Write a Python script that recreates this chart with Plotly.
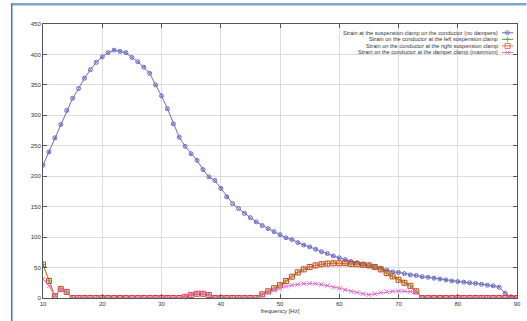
import plotly.graph_objects as go

freq = list(range(10, 91))

# Strain at the suspension clamp on the conductor (no dampers) -- 10..89 Hz
no_dampers = [218, 240, 263, 285, 308, 328, 344, 361, 375, 387,
              396, 403, 407, 405, 403, 395, 388, 379, 369, 350,
              332, 311, 286, 264, 249, 237, 226, 211, 199, 193,
              180, 166, 155, 147, 139, 132, 125, 119, 114, 109,
              104, 99, 96, 91, 87, 84, 80, 76, 73, 69,
              66, 63, 60, 58, 55.5, 53, 51, 49, 46, 43,
              42, 40, 38, 37, 35, 34, 32.5, 31, 29.7, 28,
              27, 26, 25, 24, 22.5, 21, 20, 17.6, 7.7, 2]
freq_no_dampers = freq[:80]

# Strain on the conductor at the left suspension clamp -- 10..90 Hz
left_clamp = [55, 28, 3, 15, 10, 0, 0, 0, 0, 0,
              0, 0, 0, 0, 0, 0, 0, 0, 0, 0,
              0, 0, 0, 0, 2, 5, 7, 7, 5, 0,
              0, 0, 0, 0, 0, 0, 0, 6, 11, 16,
              21, 28, 35, 42, 47, 51, 53.5, 55.5, 56.5, 57,
              57, 57, 56, 55.5, 54.5, 53.5, 51, 47, 41, 35.5,
              30, 25, 20, 11, 0, 0, 0, 0, 0, 0,
              0, 0, 0, 0, 0, 0, 0, 0, 0, 0, 0]

# Strain on the conductor at the right suspension clamp -- 10..90 Hz
right_clamp = [55, 28, 3, 15, 10, 0, 0, 0, 0, 0,
               0, 0, 0, 0, 0, 0, 0, 0, 0, 0,
               0, 0, 0, 0, 2, 5, 7, 7, 5, 0,
               0, 0, 0, 0, 0, 0, 0, 6, 11, 16,
               21, 28, 35, 42, 47, 51, 53.5, 55.5, 56.5, 57,
               57, 57, 56, 55.5, 54.5, 53.5, 51, 47, 41, 35.5,
               30, 25, 20, 11, 0, 0, 0, 0, 0, 0,
               0, 0, 0, 0, 0, 0, 0, 0, 0, 0, 0]

# Strain on the conductor at the damper clamp (maximum) -- 10..90 Hz
damper_clamp = [31, 20, 3, 15, 10, 0, 0, 0, 0, 0,
                0, 0, 0, 0, 0, 0, 0, 0, 0, 0,
                0, 0, 0, 0, 3, 7, 8, 8, 6, 0,
                0, 0, 0, 0, 0, 0, 0, 5, 9, 13,
                16, 19, 21, 22.5, 23.5, 24, 23.5, 22, 20.5, 18,
                16, 13.5, 11, 9, 7, 5.5, 7, 9, 10.5, 11,
                11.5, 11.5, 10.5, 9, 0, 0, 0, 0, 0, 0,
                0, 0, 0, 0, 0, 0, 0, 0, 0, 0, 0]

names = ["Strain at the suspension clamp on the conductor (no dampers)",
         "Strain on the conductor at the left suspension clamp",
         "Strain on the conductor at the right suspension clamp",
         "Strain on the conductor at the damper clamp (maximum)"]

BLUE = "#6c6cc4"
GREEN = "#3fae3f"
RED = "#e03a1e"
ORANGE = "#f07a2a"
PINK = "#e06ad0"

FONT = "Liberation Sans"
TXT = "#333333"

fig = go.Figure()

styles = [
    dict(line=dict(color=BLUE, width=1), marker=dict(symbol="circle-x-open", size=4, color=BLUE, line=dict(width=1, color=BLUE))),
    dict(line=dict(color=GREEN, width=1), marker=dict(symbol="cross-thin-open", size=4, color=GREEN, line=dict(width=1, color=GREEN))),
    dict(line=dict(color=ORANGE, width=1), marker=dict(symbol="square-open", size=5, color=RED, line=dict(width=1, color=RED))),
    dict(line=dict(color=PINK, width=1), marker=dict(symbol="x-thin-open", size=4.5, color=PINK, line=dict(width=1, color=PINK))),
]

series = [(freq_no_dampers, no_dampers), (freq, left_clamp), (freq, right_clamp), (freq, damper_clamp)]
for (xs, ys), nm, st in zip(series, names, styles):
    fig.add_trace(go.Scatter(x=xs, y=ys, mode="lines+markers", name=nm,
                             line=st["line"], marker=st["marker"], showlegend=False))

# custom legend (text right-aligned, sample on the right, gnuplot-style)
leg_y = [0.968, 0.944, 0.920, 0.896]
for nm, st, yy in zip(names, styles, leg_y):
    fig.add_annotation(x=0.9635, y=yy, xref="paper", yref="paper", text=nm,
                       showarrow=False, xanchor="right", yanchor="middle",
                       font=dict(family=FONT, size=5.6, color=TXT))
    fig.add_trace(go.Scatter(x=[0.968, 0.98, 0.992], y=[yy, yy, yy], xaxis="x2", yaxis="y2",
                             mode="lines+markers", line=st["line"],
                             marker=dict(symbol=st["marker"]["symbol"], size=[0, st["marker"]["size"], 0],
                                         color=st["marker"]["color"], line=st["marker"]["line"]),
                             showlegend=False, hoverinfo="skip"))

axis_common = dict(showline=True, linecolor="#555555", linewidth=1, mirror="ticks",
                   ticks="inside", ticklen=4, tickcolor="#555555",
                   showgrid=True, gridcolor="#dcdcdc", gridwidth=1, zeroline=False,
                   tickfont=dict(family=FONT, size=6, color=TXT))

fig.update_layout(
    width=527, height=321,
    margin=dict(l=43, r=6, t=24, b=23),
    paper_bgcolor="white", plot_bgcolor="white",
    xaxis=dict(range=[10, 90], dtick=10, **axis_common,
               title=dict(text="frequency [Hz]", font=dict(family=FONT, size=6, color=TXT), standoff=2)),
    yaxis=dict(range=[0, 450], dtick=50, **axis_common),
    xaxis2=dict(overlaying="x", range=[0, 1], visible=False, fixedrange=True),
    yaxis2=dict(overlaying="y", range=[0, 1], visible=False, fixedrange=True),
)

# screenshot frame lines (top and left)
fig.add_shape(type="line", xref="paper", yref="paper", x0=-0.066, x1=1.02, y0=1.072, y1=1.072,
              line=dict(color="#79a6d6", width=2.5))
fig.add_shape(type="line", xref="paper", yref="paper", x0=-0.066, x1=-0.066, y0=1.076, y1=-0.09,
              line=dict(color="#3c78c4", width=1.5))

fig.write_html("out.html", config={"displayModeBar": False},
               post_script="document.body.style.margin='0';document.body.style.padding='0';")
